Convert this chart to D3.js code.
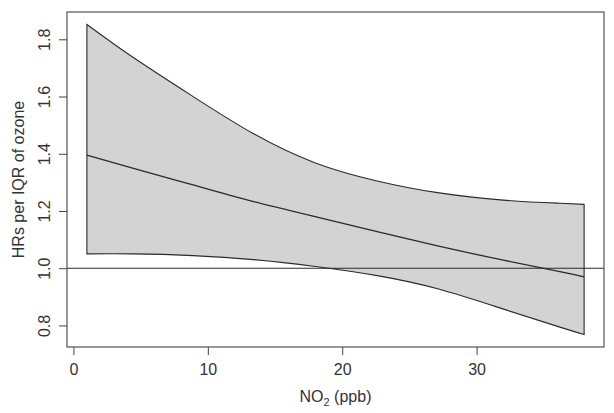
<!DOCTYPE html>
<html>
<head>
<meta charset="utf-8">
<script src="https://cdn.jsdelivr.net/npm/d3@7/dist/d3.min.js"></script>
<style>
  html, body { margin: 0; padding: 0; background: #fff; }
  svg { display: block; }
  text { font-family: "Liberation Sans", Arial, Helvetica, sans-serif; fill: #333; }
</style>
</head>
<body>
<svg id="chart" width="614" height="413"></svg>
<script>
// Data
const no2 = [1, 4.4, 8.9, 13.4, 18, 22.6, 27.1, 32, 36.2, 38];
const hrUpper = [1.852, 1.738, 1.600, 1.470, 1.368, 1.305, 1.264, 1.238, 1.227, 1.223];
const hrMid   = [1.395, 1.350, 1.291, 1.233, 1.180, 1.128, 1.078, 1.028, 0.988, 0.970];
const hrLower = [1.050, 1.050, 1.044, 1.030, 1.006, 0.974, 0.928, 0.857, 0.794, 0.768];
const xTicks = [0, 10, 20, 30];
const yTicks = [0.8, 1.0, 1.2, 1.4, 1.6, 1.8];
const refLine = 1.0;
const xTitle = "NO";
const xTitleSub = "2";
const xTitleRest = " (ppb)";
const yTitle = "HRs per IQR of ozone";

const pLeft = 67, pRight = 604, pTop = 12, pBottom = 347;
const svg = d3.select("#chart");
const x = d3.scaleLinear().domain([-0.48, 39.48]).range([pLeft, pRight]);
const y = d3.scaleLinear().domain([0.7246, 1.8954]).range([pBottom, pTop]);

const rows = no2.map((v, i) => ({x: v, u: hrUpper[i], m: hrMid[i], l: hrLower[i]}));
const curve = d3.curveNatural;

// band polygon (upper forward, lower backward)
const upperLine = d3.line().x(d => x(d.x)).y(d => y(d.u)).curve(curve);
const lowerRev = rows.slice().reverse();
const lowerLine = d3.line().x(d => x(d.x)).y(d => y(d.l)).curve(curve);
const pathU = upperLine(rows);
const pathL = lowerLine(lowerRev);
svg.append("path")
  .attr("d", pathU + "L" + pathL.slice(1) + "Z")
  .attr("fill", "#d3d3d3")
  .attr("stroke", "#2a2a2a")
  .attr("stroke-width", 1.1);

// reference line at HR = 1
svg.append("line")
  .attr("x1", pLeft).attr("x2", pRight)
  .attr("y1", y(refLine)).attr("y2", y(refLine))
  .attr("stroke", "#2a2a2a").attr("stroke-width", 1.1);

// point estimate
svg.append("path")
  .attr("d", d3.line().x(d => x(d.x)).y(d => y(d.m)).curve(curve)(rows))
  .attr("fill", "none").attr("stroke", "#2a2a2a").attr("stroke-width", 1.3);

// box
svg.append("rect")
  .attr("x", pLeft).attr("y", pTop)
  .attr("width", pRight - pLeft).attr("height", pBottom - pTop)
  .attr("fill", "none").attr("stroke", "#444").attr("stroke-width", 1.1);

// x axis
const xAxis = d3.axisBottom(x).tickValues(xTicks).tickSize(8).tickFormat(d3.format("d"));
const gx = svg.append("g").attr("transform", `translate(0,${pBottom})`).call(xAxis);
gx.select(".domain").remove();
gx.selectAll(".tick line").attr("stroke", "#444");
gx.selectAll(".tick text").attr("font-size", "16px").attr("fill", "#333")
  .attr("dy", null).attr("y", 28);

// y axis
const yAxis = d3.axisLeft(y).tickValues(yTicks).tickSize(8).tickFormat(d3.format(".1f"));
const gy = svg.append("g").attr("transform", `translate(${pLeft},0)`).call(yAxis);
gy.select(".domain").remove();
gy.selectAll(".tick line").attr("stroke", "#444");
gy.selectAll(".tick text")
  .attr("font-size", "16px").attr("fill", "#333")
  .attr("x", null).attr("dy", null)
  .attr("text-anchor", "middle")
  .attr("transform", "translate(-17,0) rotate(-90)");

// titles
const xt = svg.append("text")
  .attr("x", (pLeft + pRight) / 2).attr("y", 401.5)
  .attr("text-anchor", "middle").attr("font-size", "16px");
xt.append("tspan").text(xTitle);
xt.append("tspan").attr("font-size", "11px").attr("dy", 4).text(xTitleSub);
xt.append("tspan").attr("dy", -4).text(xTitleRest);

svg.append("text")
  .attr("transform", `translate(24,${(pTop + pBottom) / 2}) rotate(-90)`)
  .attr("text-anchor", "middle").attr("font-size", "16px")
  .text(yTitle);
</script>
</body>
</html>
